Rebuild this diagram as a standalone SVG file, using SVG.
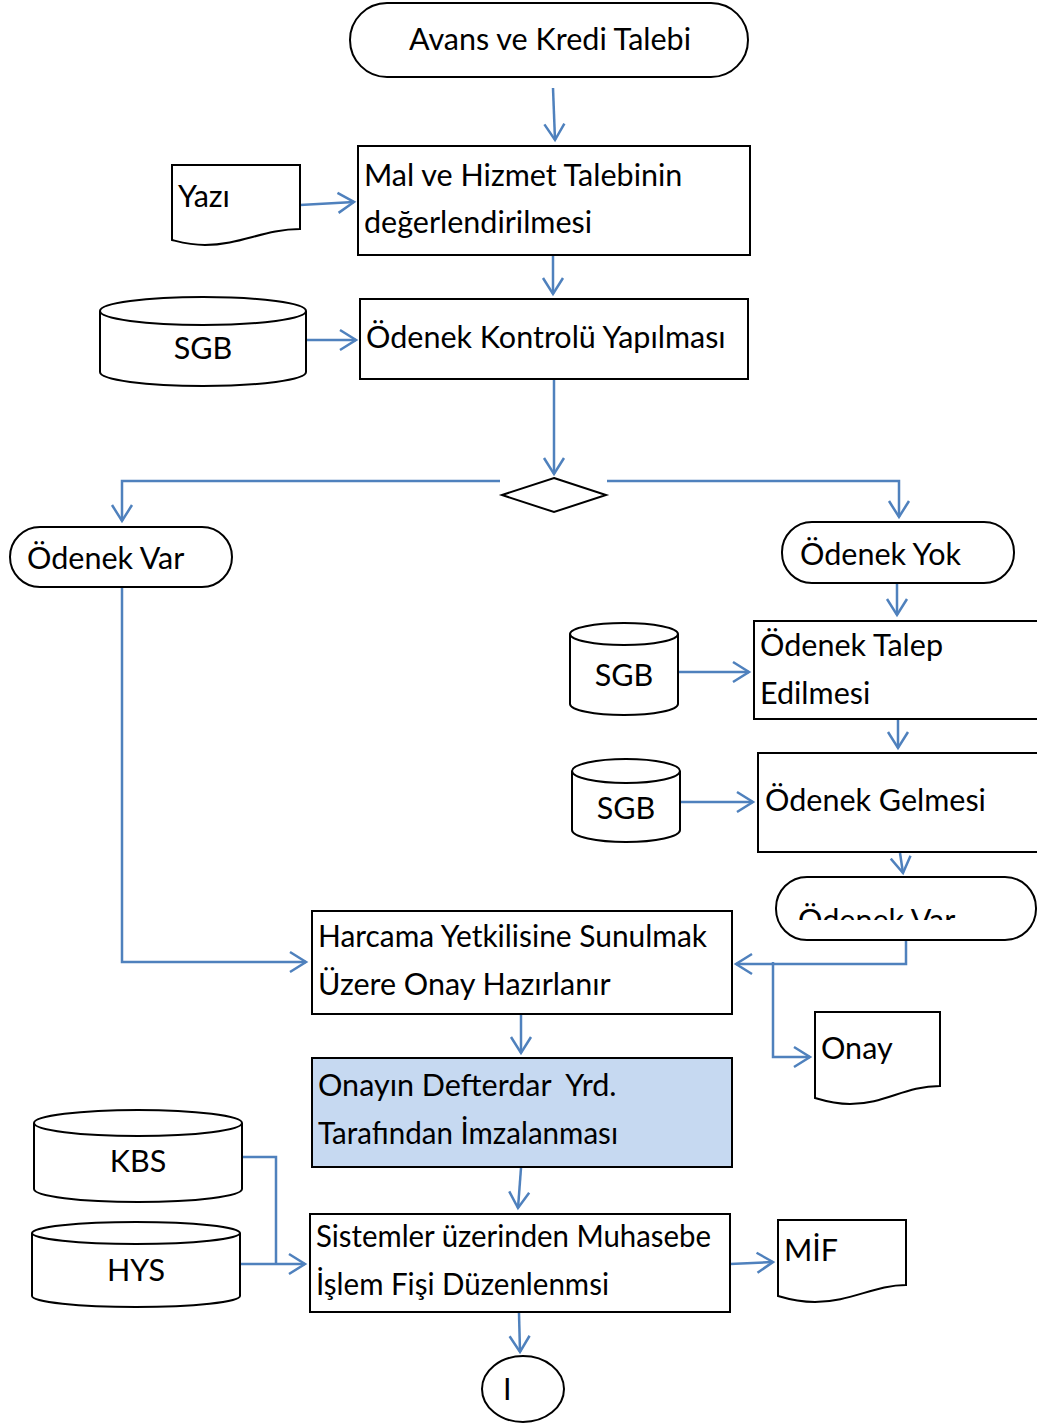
<svg xmlns="http://www.w3.org/2000/svg" width="1037" height="1423" viewBox="0 0 1037 1423">
<style>
.s{fill:#fff;stroke:#000;stroke-width:2}
.t{font-family:Lato,"Liberation Sans",sans-serif;font-size:30.5px;fill:#000;white-space:pre}
.c{fill:none;stroke:#4f81bd;stroke-width:2.5}
.m{text-anchor:middle}
</style>
<defs>
<marker id="a" markerUnits="userSpaceOnUse" markerWidth="20" markerHeight="24" viewBox="0 0 20 24" refX="17" refY="12" orient="auto">
<path d="M1,2 L17,12 L1,22" fill="none" stroke="#4f81bd" stroke-width="2.5"/>
</marker>
<clipPath id="clipVar"><rect x="770" y="870" width="280" height="50"/></clipPath>
</defs>
<rect width="1037" height="1423" fill="#fff"/>
<g id="connectors">
<path class="c" d="M553,88 L555,140" marker-end="url(#a)"/>
<path class="c" d="M300,205 L354,202" marker-end="url(#a)"/>
<path class="c" d="M553,256 L553,294" marker-end="url(#a)"/>
<path class="c" d="M306,340 L356,340" marker-end="url(#a)"/>
<path class="c" d="M554,380 L554,474" marker-end="url(#a)"/>
<path class="c" d="M500,481 H122 V521" marker-end="url(#a)"/>
<path class="c" d="M607,481 H899 V517" marker-end="url(#a)"/>
<path class="c" d="M122,588 V962 H306" marker-end="url(#a)"/>
<path class="c" d="M897,584 V615" marker-end="url(#a)"/>
<path class="c" d="M678,672 H749" marker-end="url(#a)"/>
<path class="c" d="M898,720 V748" marker-end="url(#a)"/>
<path class="c" d="M680,802 H753" marker-end="url(#a)"/>
<path class="c" d="M900,853 L903,873" marker-end="url(#a)"/>
<path class="c" d="M906,941 V964 H736" marker-end="url(#a)"/>
<path class="c" d="M773,962 V1057 H810" marker-end="url(#a)"/>
<path class="c" d="M521,1015 V1053" marker-end="url(#a)"/>
<path class="c" d="M521,1168 L518,1208" marker-end="url(#a)"/>
<path class="c" d="M242,1157 H276 V1264"/>
<path class="c" d="M240,1264 H305" marker-end="url(#a)"/>
<path class="c" d="M730,1264 L773,1262" marker-end="url(#a)"/>
<path class="c" d="M519,1313 L520,1352" marker-end="url(#a)"/>
</g>
<g id="start">
<rect class="s" x="350" y="3" width="398" height="74" rx="37"/>
<text class="t m" x="550" y="50">Avans ve Kredi Talebi</text>
</g>
<g id="box1">
<rect class="s" x="358" y="146" width="392" height="109"/>
<text class="t" x="364" y="186">Mal ve Hizmet Talebinin</text>
<text class="t" x="364" y="233">değerlendirilmesi</text>
</g>
<g id="yazi">
<path class="s" d="M172,165 H300 V229 C265,229 240,245 205,245 C190,245 180,242 172,240 Z"/>
<text class="t" x="178" y="207">Yazı</text>
</g>
<g id="sgb1">
<path class="s" d="M100,311 V372 A103,14 0 0 0 306,372 V311"/>
<ellipse class="s" cx="203" cy="311" rx="103" ry="14"/>
<text class="t m" x="203" y="359">SGB</text>
</g>
<g id="box2">
<rect class="s" x="360" y="299" width="388" height="80"/>
<text class="t" x="366" y="348">Ödenek Kontrolü Yapılması</text>
</g>
<g id="decision">
<polygon class="s" points="554,478 606,495 554,512 502,495"/>
</g>
<g id="var1">
<rect class="s" x="10" y="527" width="222" height="60" rx="30"/>
<text class="t" x="27" y="569">Ödenek Var</text>
</g>
<g id="yok">
<rect class="s" x="782" y="522" width="232" height="61" rx="30"/>
<text class="t" x="800" y="565">Ödenek Yok</text>
</g>
<g id="talep">
<rect class="s" x="754" y="621" width="300" height="98"/>
<text class="t" x="760" y="656">Ödenek Talep</text>
<text class="t" x="760" y="704">Edilmesi</text>
</g>
<g id="sgb2">
<path class="s" d="M570,634 V704 A54,11 0 0 0 678,704 V634"/>
<ellipse class="s" cx="624" cy="634" rx="54" ry="11"/>
<text class="t m" x="624" y="686">SGB</text>
</g>
<g id="gelmesi">
<rect class="s" x="758" y="753" width="300" height="99"/>
<text class="t" x="765" y="811">Ödenek Gelmesi</text>
</g>
<g id="sgb3">
<path class="s" d="M572,771 V830 A54,12 0 0 0 680,830 V771"/>
<ellipse class="s" cx="626" cy="771" rx="54" ry="12"/>
<text class="t m" x="626" y="819">SGB</text>
</g>
<g id="var2">
<rect class="s" x="776" y="877" width="260" height="63" rx="31"/>
<text class="t" x="798" y="931" clip-path="url(#clipVar)">Ödenek Var</text>
</g>
<g id="harcama">
<rect class="s" x="312" y="911" width="420" height="103"/>
<text class="t" x="318" y="947" textLength="389" lengthAdjust="spacingAndGlyphs">Harcama Yetkilisine Sunulmak</text>
<text class="t" x="318" y="995">Üzere Onay Hazırlanır</text>
</g>
<g id="onay">
<path class="s" d="M815,1012 H940 V1086 C905,1086 885,1104 850,1104 C835,1104 825,1101 815,1098 Z"/>
<text class="t" x="821" y="1059">Onay</text>
</g>
<g id="imza">
<rect x="312" y="1058" width="420" height="109" fill="#c6d9f1" stroke="#000" stroke-width="2"/>
<text class="t" x="318" y="1096" xml:space="preserve">Onayın Defterdar  Yrd.</text>
<text class="t" x="318" y="1144" textLength="300" lengthAdjust="spacingAndGlyphs">Tarafından İmzalanması</text>
</g>
<g id="kbs">
<path class="s" d="M34,1123 V1189 A104,13 0 0 0 242,1189 V1123"/>
<ellipse class="s" cx="138" cy="1123" rx="104" ry="13"/>
<text class="t m" x="138" y="1172">KBS</text>
</g>
<g id="hys">
<path class="s" d="M32,1233 V1296 A104,11 0 0 0 240,1296 V1233"/>
<ellipse class="s" cx="136" cy="1233" rx="104" ry="11"/>
<text class="t m" x="136" y="1281">HYS</text>
</g>
<g id="sistem">
<rect class="s" x="310" y="1214" width="420" height="98"/>
<text class="t" x="316" y="1247" textLength="395" lengthAdjust="spacingAndGlyphs">Sistemler üzerinden Muhasebe</text>
<text class="t" x="316" y="1295" textLength="293" lengthAdjust="spacingAndGlyphs">İşlem Fişi Düzenlenmsi</text>
</g>
<g id="mif">
<path class="s" d="M778,1220 H906 V1285 C875,1285 850,1302 815,1302 C800,1302 788,1299 778,1296 Z"/>
<text class="t" x="784" y="1261">MİF</text>
</g>
<g id="end">
<ellipse class="s" cx="523" cy="1389" rx="41" ry="33"/>
<text class="t" x="503" y="1400">I</text>
</g>
</svg>
